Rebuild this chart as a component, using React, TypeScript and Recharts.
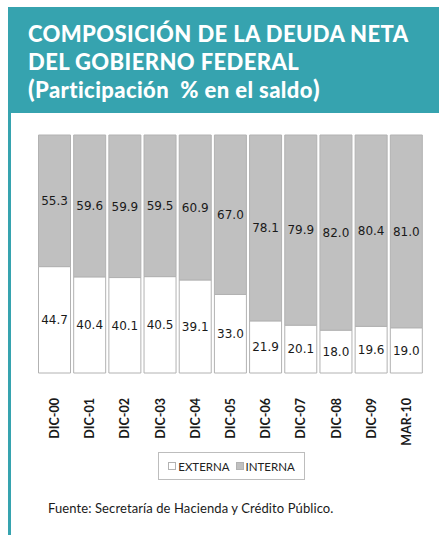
import React from 'react';
import { BarChart, Bar, XAxis, YAxis, LabelList } from 'recharts';

const periods = ['DIC-00', 'DIC-01', 'DIC-02', 'DIC-03', 'DIC-04', 'DIC-05', 'DIC-06', 'DIC-07', 'DIC-08', 'DIC-09', 'MAR-10'];
const externa = [44.7, 40.4, 40.1, 40.5, 39.1, 33.0, 21.9, 20.1, 18.0, 19.6, 19.0];
const interna = [55.3, 59.6, 59.9, 59.5, 60.9, 67.0, 78.1, 79.9, 82.0, 80.4, 81.0];
const boundaryTicks = [0, 1, 2, 3, 4, 5, 6, 7, 8, 9, 10, 11];

const series = [
    { key: 'externa', name: 'EXTERNA', fill: '#ffffff' },
    { key: 'interna', name: 'INTERNA', fill: '#c0c0c0' },
];

const data = periods.map((p, i) => ({ period: p, externa: externa[i], interna: interna[i] }));

const TEAL = '#36a3af';
const AXIS = '#8c8c8c';

/* rotated category labels, end of text sits just under the axis */
const PeriodTick = ({ x, y, payload }: any) => (
    <text x={x + 4.5} y={y + 17} transform={`rotate(-90, ${x + 4.5}, ${y + 17})`}
        textAnchor="end" fontFamily="Lato, 'Liberation Sans', sans-serif" fontWeight={700}
        fontSize={12.5} fill="#1a1a1a">
        {payload.value}
    </text>
);

const fmt = (v: any) => Number(v).toFixed(1);

export default function App() {
    return (
        <div style={{ position: 'absolute', left: 0, top: 0, width: 439, height: 535, background: '#fff', overflow: 'hidden' }}>
            {/* header band */}
            <div style={{
                position: 'absolute', left: 8, top: 7, width: 431, height: 106, background: TEAL,
                color: '#fff', fontFamily: "Lato, 'Open Sans', sans-serif", fontWeight: 900,
            }}>
                <div style={{ position: 'absolute', left: 20, top: 13, fontSize: 22, lineHeight: '27.5px', letterSpacing: 0.4, whiteSpace: 'pre' }}>
                    COMPOSICIÓN DE LA DEUDA NETA<br />
                    DEL GOBIERNO FEDERAL<br />
                    <span style={{ fontSize: 24 }}>(</span>Participación  % en el saldo<span style={{ fontSize: 24 }}>)</span>
                </div>
            </div>
            <div style={{ position: 'absolute', left: 8, top: 113, width: 3, height: 422, background: TEAL }} />

            <div style={{ position: 'absolute', left: 0, top: 0 }}>
                <BarChart width={439} height={460} data={data}
                    margin={{ top: 135, right: 15, left: 37, bottom: 0 }} barCategoryGap={1.5}>
                    <XAxis xAxisId="grid" type="number" domain={[0, 11]} ticks={boundaryTicks}
                        height={0} tick={false} tickSize={4} stroke={AXIS} />
                    <XAxis dataKey="period" height={87} axisLine={false} tickLine={false}
                        tick={<PeriodTick />} interval={0} />
                    <XAxis xAxisId="top" orientation="top" type="number" domain={[0, 11]}
                        height={0} tick={false} tickLine={false} stroke={AXIS} />
                    <YAxis domain={[0, 100]} width={0} tick={false} tickLine={false} stroke={AXIS} />
                    <YAxis yAxisId="r" orientation="right" domain={[0, 100]} width={0}
                        tick={false} tickLine={false} stroke={AXIS} />
                    {series.map(s => (
                        <Bar key={s.key} dataKey={s.key} name={s.name} stackId="a" fill={s.fill}
                            stroke="#b2b2b2" strokeWidth={1} isAnimationActive={false}>
                            <LabelList dataKey={s.key} position="center" formatter={fmt}
                                fill="#1a1a1a" fontSize={12} fontFamily="'DejaVu Sans', sans-serif" />
                        </Bar>
                    ))}
                </BarChart>
            </div>

            {/* legend */}
            <div style={{
                position: 'absolute', left: 158, top: 452, width: 145, height: 26, border: '1px solid #bdbdbd',
                display: 'flex', alignItems: 'center', justifyContent: 'center', gap: 6,
                fontFamily: "Lato, sans-serif", fontSize: 11.5, color: '#222',
            }}>
                {series.map(s => (
                    <div key={s.key} style={{ display: 'flex', alignItems: 'center', gap: 2 }}>
                        <span style={{ display: 'inline-block', width: 6, height: 6, background: s.fill, border: '1px solid #b2b2b2' }} />
                        <span>{s.name}</span>
                    </div>
                ))}
            </div>

            <div style={{
                position: 'absolute', left: 48, top: 500, fontFamily: "Lato, sans-serif", fontSize: 13, color: '#1a1a1a',
                letterSpacing: 0.1,
            }}>
                Fuente: Secretaría de Hacienda y Crédito Público.
            </div>
        </div>
    );
}
